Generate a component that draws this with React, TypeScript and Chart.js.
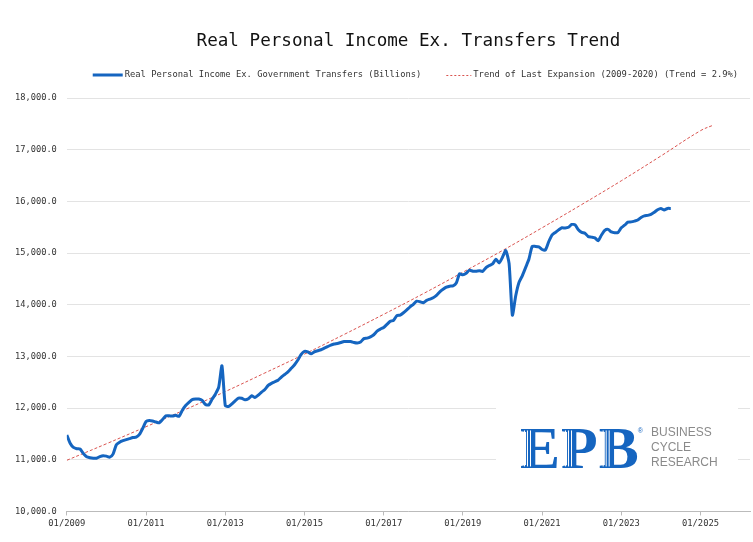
import React, { useEffect, useRef } from 'react';

import Chart from 'chart.js/auto';

// monthly data starting 01/2009
const startYear = 2009;

const incomeValues = [
  11480, 11320, 11240, 11215, 11210, 11120, 11060, 11040, 11030, 11030, 11060, 11080,
  11070, 11050, 11110, 11290, 11340, 11370, 11390, 11410, 11430, 11440, 11490, 11610,
  11740, 11760, 11750, 11730, 11715, 11780, 11850, 11850, 11845, 11860, 11840, 11960,
  12050, 12110, 12165, 12175, 12175, 12150, 12070, 12060, 12170, 12270, 12400, 12820,
  12050, 12030, 12080, 12140, 12195, 12190, 12160, 12180, 12240, 12205, 12250, 12310,
  12360, 12440, 12480, 12510, 12540, 12600, 12650, 12700, 12770, 12840, 12930, 13040,
  13100, 13090, 13050, 13090, 13110, 13130, 13160, 13190, 13220, 13240, 13250, 13270,
  13290, 13290, 13290, 13270, 13260, 13280, 13345, 13355, 13380, 13420, 13490, 13530,
  13560, 13620, 13680, 13700, 13790, 13800, 13845, 13900, 13960, 14010, 14070, 14060,
  14040, 14085, 14110, 14135, 14180, 14250, 14300, 14340, 14360, 14365, 14420, 14600,
  14580, 14610, 14670, 14650, 14650, 14660, 14645, 14720, 14760, 14790, 14880, 14810,
  14920, 15050, 14800, 13800, 14170, 14430, 14560, 14720, 14880, 15130, 15130, 15120,
  15070, 15060, 15220, 15350, 15400, 15450, 15490, 15485, 15500, 15555, 15545, 15450,
  15400, 15385, 15320, 15310, 15295, 15240, 15350, 15440, 15460, 15410, 15395, 15400,
  15490, 15540, 15600, 15605, 15620, 15640, 15690, 15720, 15730, 15750, 15790, 15840,
  15865, 15835, 15865, 15865,
];

// trend line, months since 01/2009
const trendMonths = [0, 12, 24, 36, 48, 60, 72, 84, 96, 108, 120, 132, 144, 156, 168, 180, 192, 196];
const trendValues = [
  10990, 11310, 11640, 11975, 12320, 12680, 13045, 13425, 13815, 14215, 14630, 15050,
  15490, 15940, 16400, 16880, 17370, 17480,
];

const incomeLabel = 'Real Personal Income Ex. Government Transfers (Billions)';
const trendLabel = 'Trend of Last Expansion (2009-2020) (Trend = 2.9%)';

const xMax = 207;
const mono = '"DejaVu Sans Mono", "Liberation Mono", monospace';
const blue = '#1565c0';
const red = '#d9534f';

// legend drawn by hand so it stays on one row, centred over the plot
const legendPlugin = {
  id: 'oneRowLegend',
  afterDraw(chart: any) {
    const { ctx, chartArea } = chart;
    ctx.save();
    ctx.font = `8.8px ${mono}`;
    ctx.textBaseline = 'middle';
    ctx.textAlign = 'left';
    const w1 = ctx.measureText(incomeLabel).width;
    const w2 = ctx.measureText(trendLabel).width;
    const total = 30 + 2 + w1 + 25 + 25 + 2 + w2;
    let x = (chartArea.left + chartArea.right) / 2 + 7 - total / 2;
    const y = 75;

    ctx.strokeStyle = blue;
    ctx.lineWidth = 3;
    ctx.beginPath();
    ctx.moveTo(x, y);
    ctx.lineTo(x + 30, y);
    ctx.stroke();
    x += 32;
    ctx.fillStyle = '#333';
    ctx.fillText(incomeLabel, x, y);
    x += w1 + 25;

    ctx.strokeStyle = red;
    ctx.lineWidth = 1;
    ctx.setLineDash([2, 2]);
    ctx.beginPath();
    ctx.moveTo(x, y + 0.5);
    ctx.lineTo(x + 25, y + 0.5);
    ctx.stroke();
    ctx.setLineDash([]);
    x += 27;
    ctx.fillText(trendLabel, x, y);
    ctx.restore();
  },
};

const logoPlugin = {
  id: 'epbLogo',
  afterDatasetsDraw(chart: any) {
    const { ctx, chartArea } = chart;
    const bx = chartArea.right - 254;
    const by = chartArea.bottom - 108;
    ctx.save();
    ctx.fillStyle = '#ffffff';
    ctx.fillRect(bx, by, 242, 75);

    // EPB letters
    const lx = bx + 24;
    const base = chartArea.bottom - 43;
    ctx.font = 'bold 60px "Liberation Serif", "DejaVu Serif", serif';
    ctx.fillStyle = blue;
    ctx.textBaseline = 'alphabetic';
    ctx.textAlign = 'left';
    const letters = ['E', 'P', 'B'];
    let cx = lx;
    const starts: number[] = [];
    letters.forEach((l) => {
      starts.push(cx);
      ctx.fillText(l, cx, base);
      cx += ctx.measureText(l).width + 1;
    });
    // white stripes through the stems
    ctx.strokeStyle = '#ffffff';
    ctx.lineWidth = 1;
    starts.forEach((s) => {
      [4.5, 7.5, 10.5].forEach((o) => {
        ctx.beginPath();
        ctx.moveTo(s + o, base - 38);
        ctx.lineTo(s + o, base - 2);
        ctx.stroke();
      });
    });
    ctx.font = '7px "Liberation Sans", sans-serif';
    ctx.fillStyle = blue;
    ctx.fillText('®', cx - 2, base - 35);

    ctx.font = '12px "Liberation Sans", Arial, sans-serif';
    ctx.fillStyle = '#8a8a8a';
    ctx.textBaseline = 'middle';
    const tx = bx + 155;
    ctx.fillText('BUSINESS', tx, by + 29);
    ctx.fillText('CYCLE', tx, by + 44);
    ctx.fillText('RESEARCH', tx, by + 59);
    ctx.restore();
  },
};

const IncomeTrendChart: React.FC = () => {
  const canvasRef = useRef<HTMLCanvasElement>(null);

  useEffect(() => {
    const canvas = canvasRef.current;
    let chart: Chart | null = null;

    if (canvas) {
      chart = new Chart(canvas, {
        type: 'line',
        data: {
          datasets: [
            {
              label: incomeLabel,
              data: incomeValues.map((v, i) => ({ x: i, y: v })),
              borderColor: blue,
              backgroundColor: blue,
              borderWidth: 3,
              pointRadius: 0,
              tension: 0.2,
            },
            {
              label: trendLabel,
              data: trendMonths.map((m, i) => ({ x: m, y: trendValues[i] })),
              borderColor: red,
              backgroundColor: red,
              borderWidth: 1,
              borderDash: [3, 2],
              pointRadius: 0,
              tension: 0.4,
            },
          ],
        },
        options: {
          animation: false,
          responsive: true,
          maintainAspectRatio: false,
          layout: { padding: { left: 5, right: 3, top: 0, bottom: 10 } },
          plugins: {
            title: {
              display: true,
              text: 'Real Personal Income Ex. Transfers Trend',
              fullSize: false,
              color: '#111',
              font: { family: mono, size: 17.6, weight: 'normal' },
              padding: { top: 31, bottom: 46 },
            },
            legend: { display: false },
            tooltip: { enabled: false },
          },
          scales: {
            x: {
              type: 'linear',
              min: 0,
              max: xMax,
              grid: { drawOnChartArea: false, drawTicks: true, tickLength: 4, color: '#bbb' },
              border: { display: true, color: '#bbb' },
              ticks: {
                stepSize: 24,
                includeBounds: false,
                autoSkip: false,
                maxRotation: 0,
                color: '#333',
                padding: 3,
                font: { family: mono, size: 8.8 },
                callback: (value: any) => {
                  const v = Number(value);
                  if (v % 12 !== 0) return '';
                  return `01/${startYear + v / 12}`;
                },
              },
            },
            y: {
              min: 10000,
              max: 18000,
              grid: { color: '#e3e3e3', drawTicks: false },
              border: { display: false },
              ticks: {
                stepSize: 1000,
                padding: 10,
                color: '#333',
                font: { family: mono, size: 8.7 },
                callback: (value: any) =>
                  Number(value).toLocaleString('en-US', {
                    minimumFractionDigits: 1,
                    maximumFractionDigits: 1,
                  }),
              },
            },
          },
        },
        plugins: [logoPlugin, legendPlugin],
      });
    }

    return () => {
      if (chart) {
        chart.destroy();
      }
    };
  }, []);

  return (
    <div
      style={{
        position: 'fixed',
        left: 0,
        top: 0,
        width: 753,
        height: 542,
        background: '#fff',
      }}
    >
      <canvas ref={canvasRef}></canvas>
    </div>
  );
};

export default function App() {
  return <IncomeTrendChart />;
}
